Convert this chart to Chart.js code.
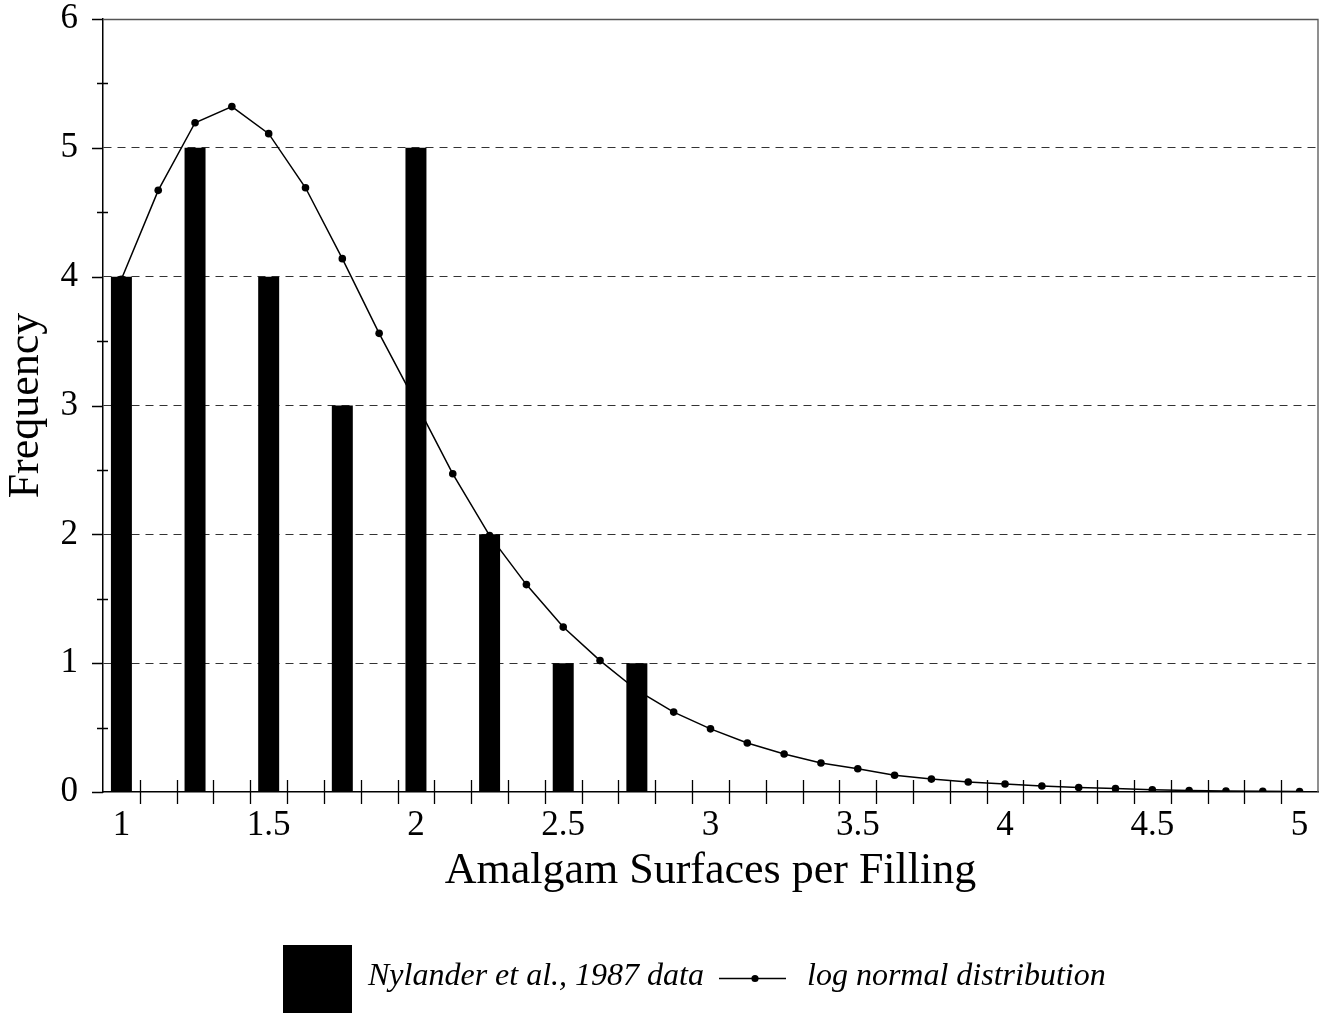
<!DOCTYPE html>
<html>
<head>
<meta charset="utf-8">
<script src="https://cdn.jsdelivr.net/npm/chart.js@4.4.0/dist/chart.umd.min.js"></script>
<style>
html,body{margin:0;padding:0;background:#fff;}
#wrap{position:relative;width:1328px;height:1013px;}
</style>
</head>
<body>
<div id="wrap"><canvas id="c" width="1328" height="1013"></canvas></div>
<script>
// ---- data ----
const categories = ['1','1.125','1.25','1.375','1.5','1.625','1.75','1.875','2','2.125','2.25','2.375','2.5','2.625','2.75','2.875','3','3.125','3.25','3.375','3.5','3.625','3.75','3.875','4','4.125','4.25','4.375','4.5','4.625','4.75','4.875','5'];
const tickLabels = ['1','1.5','2','2.5','3','3.5','4','4.5','5'];
const barLabel = 'Nylander et al., 1987 data';
const lineLabel = 'log normal distribution';
const barValues = [4,null,5,null,4,null,3,null,5,null,2,null,1,null,1,null,null,null,null,null,null,null,null,null,null,null,null,null,null,null,null,null,null];
const lineValues = [3.98,4.67,5.195,5.32,5.11,4.69,4.14,3.56,3.02,2.47,1.99,1.61,1.28,1.02,0.79,0.62,0.49,0.38,0.295,0.225,0.18,0.13,0.10,0.078,0.062,0.047,0.035,0.027,0.017,0.012,0.008,0.005,0.004];
const yMin = 0, yMax = 6;

const SERIF = "'Liberation Serif','Times New Roman',Times,serif";

const decor = {
  id: 'decor',
  afterDraw(chart) {
    const ctx = chart.ctx;
    const xs = chart.scales.x, ys = chart.scales.y;
    const a = chart.chartArea;
    ctx.save();
    // frame top & right
    ctx.strokeStyle = '#555';
    ctx.lineWidth = 1.3;
    ctx.beginPath();
    ctx.moveTo(a.left, a.top + 0.5);
    ctx.lineTo(a.right, a.top + 0.5);
    ctx.lineTo(a.right, a.bottom);
    ctx.stroke();
    // x tick marks at category boundaries, crossing the axis
    ctx.strokeStyle = '#000';
    ctx.lineWidth = 1.3;
    const y0 = ys.getPixelForValue(0);
    ctx.beginPath();
    for (let i = 1; i < categories.length; i++) {
      const px = Math.round(xs.getPixelForValue(i - 0.5)) + 0.5;
      ctx.moveTo(px, y0 - 12);
      ctx.lineTo(px, y0 + 12);
    }
    ctx.stroke();
    // y ticks: integers outward, halves crossing
    const x0 = a.left;
    ctx.beginPath();
    for (let v = yMin; v <= yMax; v += 0.5) {
      const py = Math.round(ys.getPixelForValue(v)) + 0.5;
      if (Number.isInteger(v)) { ctx.moveTo(x0 - 11, py); ctx.lineTo(x0, py); }
      else { ctx.moveTo(x0 - 6, py); ctx.lineTo(x0 + 5, py); }
    }
    ctx.stroke();
    // legend
    ctx.fillStyle = '#000';
    ctx.fillRect(283, 945, 69, 68);
    ctx.font = 'italic 32px ' + SERIF;
    ctx.textBaseline = 'alphabetic';
    ctx.textAlign = 'left';
    ctx.fillText(barLabel, 368, 985);
    ctx.lineWidth = 1.5;
    ctx.beginPath();
    ctx.moveTo(719, 978.5);
    ctx.lineTo(786, 978.5);
    ctx.stroke();
    ctx.beginPath();
    ctx.arc(755, 978.5, 3.6, 0, Math.PI * 2);
    ctx.fill();
    ctx.fillText(lineLabel, 807, 985);
    ctx.restore();
  }
};

new Chart(document.getElementById('c'), {
  data: {
    labels: categories,
    datasets: [
      {
        type: 'bar',
        label: barLabel,
        data: barValues,
        backgroundColor: '#000',
        borderWidth: 0,
        barPercentage: 0.57,
        categoryPercentage: 1.0,
        order: 0
      },
      {
        type: 'line',
        label: lineLabel,
        data: lineValues,
        borderColor: '#000',
        borderWidth: 1.5,
        backgroundColor: '#000',
        pointRadius: 3.8,
        pointBorderWidth: 0,
        pointBackgroundColor: '#000',
        tension: 0,
        fill: false,
        order: 1
      }
    ]
  },
  options: {
    responsive: false,
    animation: false,
    devicePixelRatio: 1,
    layout: { padding: { left: 0, right: 10, top: 19, bottom: 0 } },
    plugins: { legend: { display: false }, tooltip: { enabled: false } },
    scales: {
      x: {
        type: 'category',
        offset: true,
        grid: { display: false, drawTicks: false, offset: true },
        border: { display: true, color: '#000', width: 1.5 },
        ticks: {
          autoSkip: false,
          maxRotation: 0,
          padding: 13,
          color: '#000',
          font: { family: SERIF, size: 35 },
          callback: function(val, idx) {
            const lab = categories[idx];
            return tickLabels.includes(lab) ? lab : '';
          }
        },
        title: {
          display: true,
          text: 'Amalgam Surfaces per Filling',
          color: '#000',
          font: { family: SERIF, size: 44 },
          padding: { top: 0, bottom: 115 }
        },
        afterFit: (s) => { s.height = 221; s.paddingLeft = 0; s.paddingRight = 0; }
      },
      y: {
        min: yMin,
        max: yMax,
        ticks: {
          stepSize: 1,
          padding: 25,
          color: '#000',
          font: { family: SERIF, size: 35 }
        },
        grid: {
          drawTicks: false,
          lineWidth: 1,
          color: (c) => (c.tick && c.tick.value > 0 && c.tick.value < 6) ? '#333' : 'rgba(0,0,0,0)'
        },
        border: { display: true, color: '#000', width: 1.5, dash: [8, 6] },
        title: {
          display: true,
          text: 'Frequency',
          color: '#000',
          font: { family: SERIF, size: 44 },
          padding: { top: 0, bottom: 0 }
        },
        afterFit: (s) => { s.width = 103; s.paddingTop = 0; s.paddingBottom = 0; }
      }
    }
  },
  plugins: [decor]
});
</script>
</body>
</html>
